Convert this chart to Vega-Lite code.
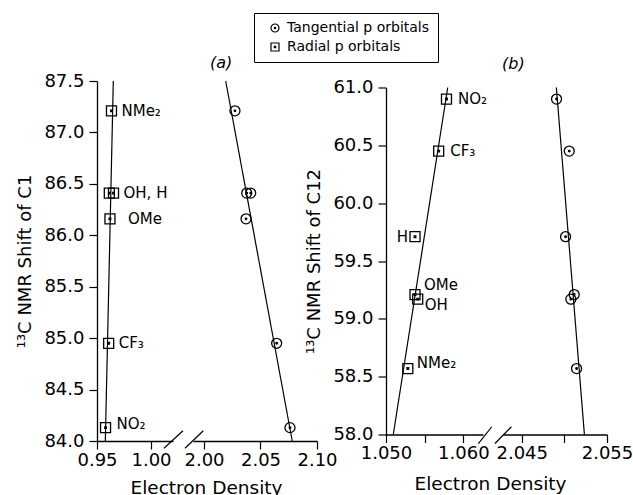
{
  "$schema": "https://vega.github.io/schema/vega-lite/v6.json",
  "background": "white",
  "padding": {"left": 16, "top": 12, "right": 0, "bottom": 0},
  "config": {
    "font": "DejaVu Sans",
    "view": {"stroke": null},
    "axis": {"grid": false, "domainColor": "black", "tickColor": "black", "labelColor": "black", "titleColor": "black", "labelFont": "DejaVu Sans", "titleFont": "DejaVu Sans", "labelFontSize": 18, "titleFontWeight": "normal", "tickSize": 8, "domainWidth": 1.3, "tickWidth": 1.2, "labelFlush": false, "labelOverlap": false},
    "axisX": {"labelPadding": 2, "titleFontSize": 18.5},
    "axisY": {"labelPadding": 5, "titleFontSize": 18, "titlePadding": 9},
    "legend": {"strokeColor": "black", "strokeWidth": 1, "fillColor": "white", "padding": 8, "labelFont": "DejaVu Sans", "labelFontSize": 14, "labelColor": "black", "symbolSize": 64, "symbolStrokeWidth": 1.2, "symbolStrokeColor": "black", "rowPadding": 5, "labelOffset": 5, "symbolOffset": 6},
    "title": {"font": "DejaVu Sans", "color": "black"}
  },
  "datasets": {
    "aRad": [
      {"orbital": "Radial p orbitals", "sub": "NMe2", "x": 0.9634, "y": 87.21, "label": "NMe₂"},
      {"orbital": "Radial p orbitals", "sub": "OH", "x": 0.9614, "y": 86.41, "label": ""},
      {"orbital": "Radial p orbitals", "sub": "H", "x": 0.9653, "y": 86.41, "label": "OH, H"},
      {"orbital": "Radial p orbitals", "sub": "OMe", "x": 0.962, "y": 86.16, "label": "OMe"},
      {"orbital": "Radial p orbitals", "sub": "CF3", "x": 0.9608, "y": 84.95, "label": "CF₃"},
      {"orbital": "Radial p orbitals", "sub": "NO2", "x": 0.9579, "y": 84.13, "label": "NO₂"}
    ],
    "aTan": [
      {"orbital": "Tangential p orbitals", "sub": "NMe2", "x": 2.0274, "y": 87.21},
      {"orbital": "Tangential p orbitals", "sub": "OH", "x": 2.0378, "y": 86.41},
      {"orbital": "Tangential p orbitals", "sub": "H", "x": 2.0413, "y": 86.41},
      {"orbital": "Tangential p orbitals", "sub": "OMe", "x": 2.0372, "y": 86.16},
      {"orbital": "Tangential p orbitals", "sub": "CF3", "x": 2.0643, "y": 84.95},
      {"orbital": "Tangential p orbitals", "sub": "NO2", "x": 2.0761, "y": 84.13}
    ],
    "bRad": [
      {"orbital": "Radial p orbitals", "sub": "NO2", "x": 1.05782, "y": 60.9, "label": "NO₂"},
      {"orbital": "Radial p orbitals", "sub": "CF3", "x": 1.05681, "y": 60.45, "label": "CF₃"},
      {"orbital": "Radial p orbitals", "sub": "H", "x": 1.05375, "y": 59.71, "label": "H"},
      {"orbital": "Radial p orbitals", "sub": "OMe", "x": 1.05375, "y": 59.21, "label": "OMe"},
      {"orbital": "Radial p orbitals", "sub": "OH", "x": 1.0541, "y": 59.17, "label": "OH"},
      {"orbital": "Radial p orbitals", "sub": "NMe2", "x": 1.05282, "y": 58.57, "label": "NMe₂"}
    ],
    "bTan": [
      {"orbital": "Tangential p orbitals", "sub": "NO2", "x": 2.04908, "y": 60.9},
      {"orbital": "Tangential p orbitals", "sub": "CF3", "x": 2.05057, "y": 60.45},
      {"orbital": "Tangential p orbitals", "sub": "H", "x": 2.05014, "y": 59.71},
      {"orbital": "Tangential p orbitals", "sub": "OMe", "x": 2.05115, "y": 59.21},
      {"orbital": "Tangential p orbitals", "sub": "OH", "x": 2.05076, "y": 59.17},
      {"orbital": "Tangential p orbitals", "sub": "NMe2", "x": 2.05143, "y": 58.57}
    ],
    "fits": [
      {"seg": "a1", "x": 0.9577, "y": 84.0, "x2": 0.9651, "y2": 87.5},
      {"seg": "a2", "x": 2.0781, "y": 84.0, "x2": 2.0192, "y2": 87.5},
      {"seg": "b1", "x": 1.05094, "y": 58.0, "x2": 1.05798, "y2": 61.0},
      {"seg": "b2", "x": 2.05235, "y": 58.0, "x2": 2.04906, "y2": 61.0}
    ],
    "breaks": [
      {"seg": "a1", "x": 1.012, "y": 83.93, "x2": 1.0296, "y2": 84.1},
      {"seg": "a2", "x": 1.9832, "y": 83.93, "x2": 1.9994, "y2": 84.1},
      {"seg": "b1", "x": 1.06194, "y": 57.922, "x2": 1.06367, "y2": 58.067},
      {"seg": "b2", "x": 2.04186, "y": 57.922, "x2": 2.04379, "y2": 58.067}
    ]
  },
  "hconcat": [
    {
      "width": 76, "height": 360,
      "encoding": {
        "x": {"field": "x", "type": "quantitative", "scale": {"domain": [0.95, 1.02037], "nice": false, "zero": false}, "axis": {"values": [0.95, 1.0], "format": ".2f", "title": null}},
        "y": {"field": "y", "type": "quantitative", "scale": {"domain": [84, 87.5], "nice": false, "zero": false}, "axis": {"values": [84, 84.5, 85, 85.5, 86, 86.5, 87, 87.5], "format": ".1f", "title": "¹³C NMR Shift of C1"}}
      },
      "layer": [
        {"data": {"name": "fits"}, "transform": [{"filter": "datum.seg == 'a1'"}], "mark": {"type": "rule", "color": "black", "strokeWidth": 1.2}, "encoding": {"x2": {"field": "x2"}, "y2": {"field": "y2"}}},
        {"data": {"name": "breaks"}, "transform": [{"filter": "datum.seg == 'a1'"}], "mark": {"type": "rule", "color": "black", "strokeWidth": 1.2}, "encoding": {"x2": {"field": "x2"}, "y2": {"field": "y2"}}},
        {"data": {"name": "aRad"}, "mark": {"type": "point", "filled": false, "color": "black", "strokeWidth": 1.3, "size": 100, "opacity": 1},
         "encoding": {"shape": {"field": "orbital", "type": "nominal", "scale": {"domain": ["Tangential p orbitals", "Radial p orbitals"], "range": ["M-1,0A1,1,0,1,0,1,0A1,1,0,1,0,-1,0ZM-0.16,0A0.16,0.16,0,1,0,0.16,0A0.16,0.16,0,1,0,-0.16,0Z", "M-1,-1L1,-1L1,1L-1,1ZM-0.16,-0.16L0.16,-0.16L0.16,0.16L-0.16,0.16Z"]}, "legend": {"title": null, "orient": "none", "legendX": 157, "legendY": -68}}}},
        {"data": {"name": "aRad"}, "transform": [{"filter": "indexof(['NMe₂', 'OH, H', 'CF₃'], datum.label) >= 0"}], "mark": {"type": "text", "align": "left", "baseline": "middle", "dx": 10, "fontSize": 15, "color": "black"}, "encoding": {"text": {"field": "label"}}},
        {"data": {"name": "aRad"}, "transform": [{"filter": "datum.label == 'OMe'"}], "mark": {"type": "text", "align": "left", "baseline": "middle", "dx": 18, "fontSize": 15, "color": "black"}, "encoding": {"text": {"field": "label"}}},
        {"data": {"name": "aRad"}, "transform": [{"filter": "datum.label == 'NO₂'"}], "mark": {"type": "text", "align": "left", "baseline": "middle", "dx": 11, "dy": -4, "fontSize": 15, "color": "black"}, "encoding": {"text": {"field": "label"}}}
      ]
    },
    {
      "width": 124, "height": 360,
      "title": {"text": "(a)", "anchor": "start", "frame": "group", "dx": 17, "offset": 9, "fontStyle": "italic", "fontSize": 16, "fontWeight": "normal"},
      "encoding": {
        "x": {"field": "x", "type": "quantitative", "scale": {"domain": [1.99027, 2.1], "nice": false, "zero": false}, "axis": {"values": [2.0, 2.05, 2.1], "format": ".2f", "title": "Electron Density", "titleX": 13, "titleY": 52.5, "titleBaseline": "alphabetic"}},
        "y": {"field": "y", "type": "quantitative", "scale": {"domain": [84, 87.5], "nice": false, "zero": false}, "axis": null}
      },
      "layer": [
        {"data": {"name": "fits"}, "transform": [{"filter": "datum.seg == 'a2'"}], "mark": {"type": "rule", "color": "black", "strokeWidth": 1.2}, "encoding": {"x2": {"field": "x2"}, "y2": {"field": "y2"}}},
        {"data": {"name": "breaks"}, "transform": [{"filter": "datum.seg == 'a2'"}], "mark": {"type": "rule", "color": "black", "strokeWidth": 1.2}, "encoding": {"x2": {"field": "x2"}, "y2": {"field": "y2"}}},
        {"data": {"name": "aTan"}, "mark": {"type": "point", "filled": false, "color": "black", "strokeWidth": 1.3, "size": 100, "opacity": 1},
         "encoding": {"shape": {"field": "orbital", "type": "nominal", "scale": {"domain": ["Tangential p orbitals", "Radial p orbitals"], "range": ["M-1,0A1,1,0,1,0,1,0A1,1,0,1,0,-1,0ZM-0.16,0A0.16,0.16,0,1,0,0.16,0A0.16,0.16,0,1,0,-0.16,0Z", "M-1,-1L1,-1L1,1L-1,1ZM-0.16,-0.16L0.16,-0.16L0.16,0.16L-0.16,0.16Z"]}, "legend": {"title": null, "orient": "none", "legendX": 157, "legendY": -68}}}}
      ]
    },
    {
      "width": 29, "height": 360,
      "data": {"values": []},
      "mark": {"type": "point", "opacity": 0},
      "encoding": {}
    },
    {
      "width": 97, "height": 347,
      "encoding": {
        "x": {"field": "x", "type": "quantitative", "scale": {"domain": [1.05, 1.06254], "nice": false, "zero": false}, "axis": {"values": [1.05, 1.055, 1.06], "labelExpr": "abs(datum.value - 1.055) < 0.0001 ? '' : format(datum.value, '.3f')", "title": "Electron Density", "titleX": 104, "titleY": 55, "titleBaseline": "alphabetic"}},
        "y": {"field": "y", "type": "quantitative", "scale": {"domain": [58, 61], "nice": false, "zero": false}, "axis": {"values": [58, 58.5, 59, 59.5, 60, 60.5, 61], "format": ".1f", "title": "¹³C NMR Shift of C12"}}
      },
      "layer": [
        {"data": {"name": "fits"}, "transform": [{"filter": "datum.seg == 'b1'"}], "mark": {"type": "rule", "color": "black", "strokeWidth": 1.2}, "encoding": {"x2": {"field": "x2"}, "y2": {"field": "y2"}}},
        {"data": {"name": "breaks"}, "transform": [{"filter": "datum.seg == 'b1'"}], "mark": {"type": "rule", "color": "black", "strokeWidth": 1.2}, "encoding": {"x2": {"field": "x2"}, "y2": {"field": "y2"}}},
        {"data": {"name": "bRad"}, "mark": {"type": "point", "filled": false, "color": "black", "strokeWidth": 1.3, "size": 100, "opacity": 1},
         "encoding": {"shape": {"field": "orbital", "type": "nominal", "scale": {"domain": ["Tangential p orbitals", "Radial p orbitals"], "range": ["M-1,0A1,1,0,1,0,1,0A1,1,0,1,0,-1,0ZM-0.16,0A0.16,0.16,0,1,0,0.16,0A0.16,0.16,0,1,0,-0.16,0Z", "M-1,-1L1,-1L1,1L-1,1ZM-0.16,-0.16L0.16,-0.16L0.16,0.16L-0.16,0.16Z"]}, "legend": {"title": null, "orient": "none", "legendX": 157, "legendY": -68}}}},
        {"data": {"name": "bRad"}, "transform": [{"filter": "indexof(['NO₂', 'CF₃'], datum.label) >= 0"}], "mark": {"type": "text", "align": "left", "baseline": "middle", "dx": 11.5, "dy": -0.5, "fontSize": 15, "color": "black"}, "encoding": {"text": {"field": "label"}}},
        {"data": {"name": "bRad"}, "transform": [{"filter": "datum.label == 'H'"}], "mark": {"type": "text", "align": "right", "baseline": "middle", "dx": -7, "fontSize": 15, "color": "black"}, "encoding": {"text": {"field": "label"}}},
        {"data": {"name": "bRad"}, "transform": [{"filter": "datum.label == 'OMe'"}], "mark": {"type": "text", "align": "left", "baseline": "middle", "dx": 9, "dy": -9.5, "fontSize": 15, "color": "black"}, "encoding": {"text": {"field": "label"}}},
        {"data": {"name": "bRad"}, "transform": [{"filter": "datum.label == 'OH'"}], "mark": {"type": "text", "align": "left", "baseline": "middle", "dx": 7, "dy": 6, "fontSize": 15, "color": "black"}, "encoding": {"text": {"field": "label"}}},
        {"data": {"name": "bRad"}, "transform": [{"filter": "datum.label == 'NMe₂'"}], "mark": {"type": "text", "align": "left", "baseline": "middle", "dx": 9, "dy": -5.5, "fontSize": 15, "color": "black"}, "encoding": {"text": {"field": "label"}}}
      ]
    },
    {
      "width": 104, "height": 347,
      "title": {"text": "(b)", "anchor": "start", "frame": "group", "dx": -1, "offset": 15, "fontStyle": "italic", "fontSize": 16, "fontWeight": "normal"},
      "encoding": {
        "x": {"field": "x", "type": "quantitative", "scale": {"domain": [2.0428, 2.055], "nice": false, "zero": false}, "axis": {"values": [2.045, 2.05, 2.055], "labelExpr": "abs(datum.value - 2.05) < 0.0001 ? '' : format(datum.value, '.3f')", "title": null}},
        "y": {"field": "y", "type": "quantitative", "scale": {"domain": [58, 61], "nice": false, "zero": false}, "axis": null}
      },
      "layer": [
        {"data": {"name": "fits"}, "transform": [{"filter": "datum.seg == 'b2'"}], "mark": {"type": "rule", "color": "black", "strokeWidth": 1.2}, "encoding": {"x2": {"field": "x2"}, "y2": {"field": "y2"}}},
        {"data": {"name": "breaks"}, "transform": [{"filter": "datum.seg == 'b2'"}], "mark": {"type": "rule", "color": "black", "strokeWidth": 1.2}, "encoding": {"x2": {"field": "x2"}, "y2": {"field": "y2"}}},
        {"data": {"name": "bTan"}, "mark": {"type": "point", "filled": false, "color": "black", "strokeWidth": 1.3, "size": 100, "opacity": 1},
         "encoding": {"shape": {"field": "orbital", "type": "nominal", "scale": {"domain": ["Tangential p orbitals", "Radial p orbitals"], "range": ["M-1,0A1,1,0,1,0,1,0A1,1,0,1,0,-1,0ZM-0.16,0A0.16,0.16,0,1,0,0.16,0A0.16,0.16,0,1,0,-0.16,0Z", "M-1,-1L1,-1L1,1L-1,1ZM-0.16,-0.16L0.16,-0.16L0.16,0.16L-0.16,0.16Z"]}, "legend": {"title": null, "orient": "none", "legendX": 157, "legendY": -68}}}}
      ]
    }
  ],
  "spacing": 20,
  "bounds": "flush",
  "center": true,
  "resolve": {"scale": {"x": "independent", "y": "independent", "shape": "shared"}, "legend": {"shape": "shared"}}
}
